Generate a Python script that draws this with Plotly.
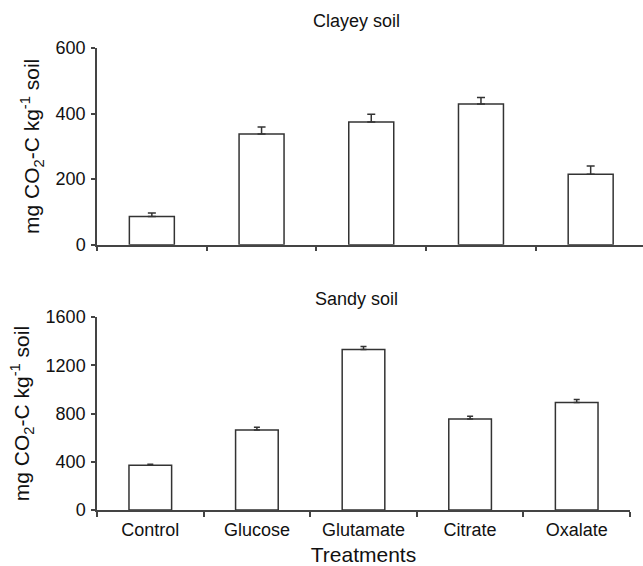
import plotly.graph_objects as go

treatments = ["Control", "Glucose", "Glutamate", "Citrate", "Oxalate"]
clayey_values = [86, 338, 374, 429, 215]
clayey_errors = [11, 21, 24, 20, 25]
sandy_values = [372, 664, 1330, 755, 892]
sandy_errors = [8, 22, 25, 22, 25]
clayey_ticks = [0, 200, 400, 600]
sandy_ticks = [0, 400, 800, 1200, 1600]

positions = list(range(len(treatments)))
boundaries = [p - 0.5 for p in positions] + [positions[-1] + 0.5]

FONT = "Liberation Sans, Arial, sans-serif"
AX = "#444444"
BAR_LINE = "#333333"
TXT = "#111111"

fig = go.Figure()

fig.add_trace(go.Bar(
    x=positions, y=clayey_values, width=0.41,
    marker=dict(color="white", line=dict(color=BAR_LINE, width=1.5)),
    error_y=dict(type="data", array=clayey_errors, arrayminus=[0] * len(clayey_errors),
                 symmetric=False, color=BAR_LINE, thickness=1.5, width=4),
    xaxis="x", yaxis="y", showlegend=False,
))
fig.add_trace(go.Bar(
    x=positions, y=sandy_values, width=0.40,
    marker=dict(color="white", line=dict(color=BAR_LINE, width=1.5)),
    error_y=dict(type="data", array=sandy_errors, arrayminus=[0] * len(sandy_errors),
                 symmetric=False, color=BAR_LINE, thickness=1.5, width=3),
    xaxis="x2", yaxis="y2", showlegend=False,
))

ytitle = "mg CO<sub>2</sub>-C kg<sup>-1</sup> soil"

common_x = dict(
    showline=True, linecolor=AX, linewidth=1.5, showgrid=False, zeroline=False,
    tickmode="array", tickvals=positions, ticks="",
    minor=dict(tickmode="array", tickvals=boundaries, ticks="outside", ticklen=5,
               tickwidth=1.5, tickcolor=AX, showgrid=False),
)
common_y = dict(
    showline=True, linecolor=AX, linewidth=1.5, showgrid=False, zeroline=False,
    ticks="outside", ticklen=4, tickwidth=1.5, tickcolor=AX,
    tickfont=dict(size=18, color=TXT, family=FONT), ticklabelstandoff=2,
    title=dict(text=ytitle, font=dict(size=21, color=TXT, family=FONT), standoff=10),
)

fig.update_layout(
    width=643, height=566,
    margin=dict(l=97, r=0, t=48, b=56),
    paper_bgcolor="white", plot_bgcolor="white",
    font=dict(family=FONT, color=TXT),
    xaxis=dict(common_x, domain=[0, 1], range=[-0.5, 4.477], anchor="y",
               showticklabels=False),
    yaxis=dict(common_y, domain=[0.5742, 1], range=[0, 600], tickvals=clayey_ticks,
               anchor="x"),
    xaxis2=dict(common_x, domain=[0, 0.9762], range=[-0.5, 4.5], anchor="y2",
                ticktext=treatments, showticklabels=True, ticklabelstandoff=3,
                tickfont=dict(size=18, color=TXT, family=FONT),
                title=dict(text="Treatments", font=dict(size=21, color=TXT, family=FONT),
                           standoff=10)),
    yaxis2=dict(common_y, domain=[0, 0.4177], range=[0, 1600], tickvals=sandy_ticks,
                anchor="x2"),
    annotations=[
        dict(text="Clayey soil", xref="paper", yref="paper", x=0.4744, y=1.058,
             xanchor="center", yanchor="middle", showarrow=False,
             font=dict(size=18, color=TXT, family=FONT)),
        dict(text="Sandy soil", xref="paper", yref="paper", x=0.4744, y=0.4567,
             xanchor="center", yanchor="middle", showarrow=False,
             font=dict(size=18, color=TXT, family=FONT)),
    ],
)

fig.write_html("out.html", config={"displayModeBar": False},
               post_script="document.body.style.margin='0';")
